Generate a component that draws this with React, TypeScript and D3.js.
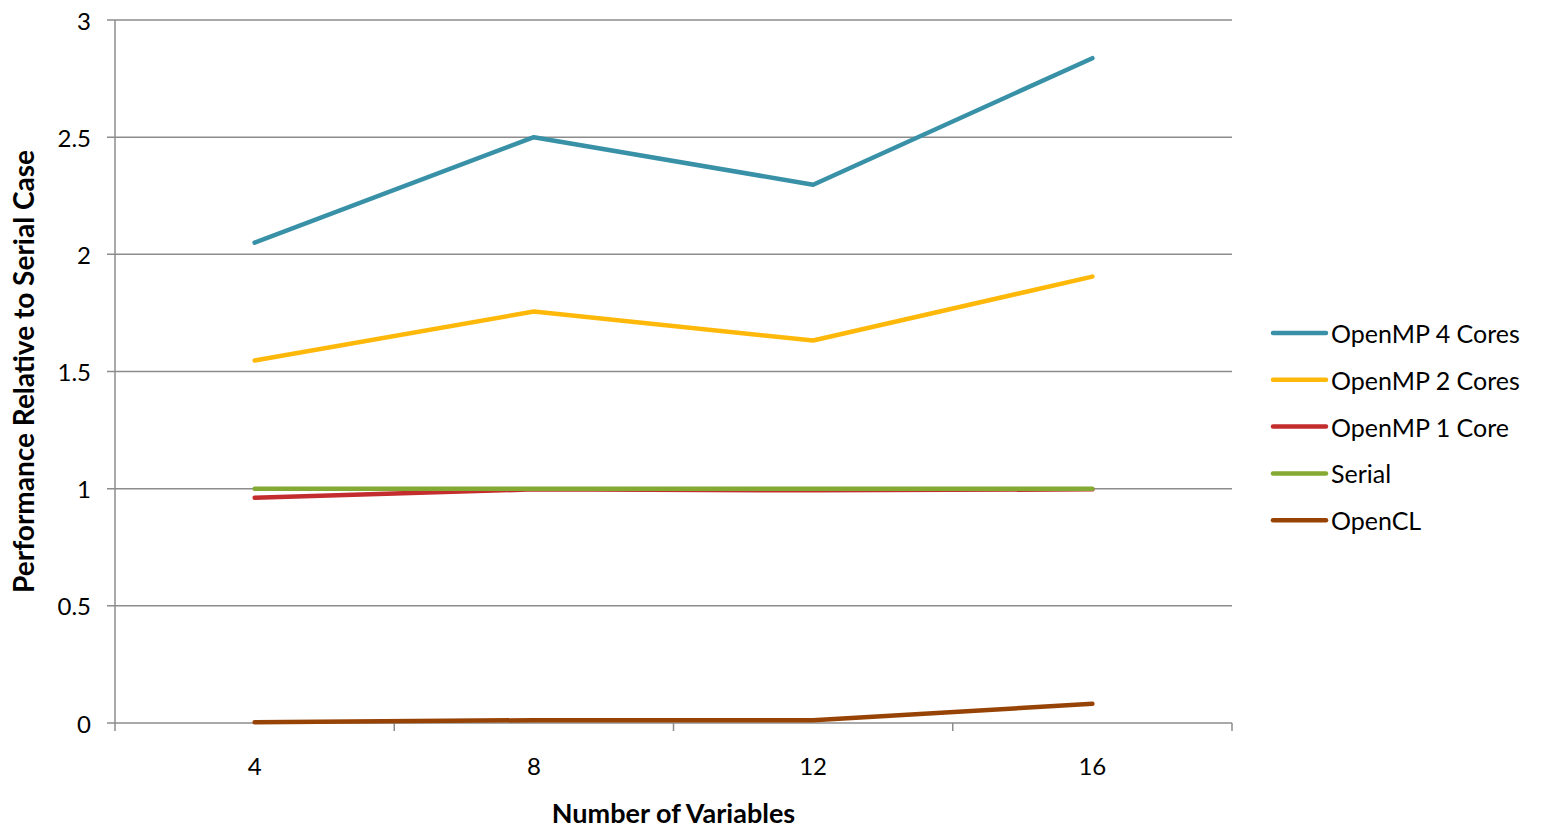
import React from "react";
import * as d3 from "d3";

const categories = ["4", "8", "12", "16"];
const seriesNames = ["OpenMP 4 Cores", "OpenMP 2 Cores", "OpenMP 1 Core", "Serial", "OpenCL"];
const openmp4 = [2.05, 2.5, 2.297, 2.837];
const openmp2 = [1.547, 1.756, 1.632, 1.905];
const openmp1 = [0.961, 0.997, 0.993, 0.997];
const serial = [1, 1, 1, 1];
const opencl = [0.003, 0.012, 0.012, 0.082];
const yTicks = [0, 0.5, 1, 1.5, 2, 2.5, 3];
const yTickLabels = ["0", "0.5", "1", "1.5", "2", "2.5", "3"];
const colors = ["#3891A7", "#FEB80A", "#C32D2E", "#84AA33", "#964305"];

const W = 1541;
const H = 828;
const left = 115;
const right = 1232;
const top = 20;
const bottom = 723;
const FONT = "Lato, 'Open Sans', sans-serif";

export default function App() {
  const allSeries = [openmp4, openmp2, openmp1, serial, opencl];
  const x = d3.scaleBand<string>().domain(categories).range([left, right]);
  const y = d3.scaleLinear().domain([0, 3]).range([bottom, top]);
  const line = d3
    .line<number>()
    .x((_, i) => (x(categories[i]) as number) + x.bandwidth() / 2)
    .y((d) => y(d));

  const boundaries = [...categories.map((c) => x(c) as number), right];
  // draw order: lower series first so the top legend entry sits on top
  const drawOrder = [4, 2, 3, 1, 0];

  return (
    <svg width={W} height={H} style={{ position: "absolute", left: 0, top: 0, background: "#fff" }}>
      {/* horizontal gridlines and y ticks */}
      {yTicks.map((t, i) => (
        <g key={t}>
          <line x1={left - 8} x2={right} y1={y(t)} y2={y(t)} stroke="#8c8c8c" strokeWidth={1.5} />
          <text
            x={91}
            y={y(t)}
            textAnchor="end"
            dominantBaseline="central"
            fontFamily={FONT}
            fontSize={24}
            fill="#000"
          >
            {yTickLabels[i]}
          </text>
        </g>
      ))}
      {/* y axis line */}
      <line x1={left} x2={left} y1={top} y2={bottom} stroke="#8c8c8c" strokeWidth={1.5} />
      {/* x tick marks at category boundaries */}
      {boundaries.map((b, i) => (
        <line key={i} x1={b} x2={b} y1={bottom} y2={bottom + 8} stroke="#8c8c8c" strokeWidth={1.5} />
      ))}
      {/* x tick labels */}
      {categories.map((c) => (
        <text
          key={c}
          x={(x(c) as number) + x.bandwidth() / 2}
          y={765}
          textAnchor="middle"
          dominantBaseline="central"
          fontFamily={FONT}
          fontSize={24}
          fill="#000"
        >
          {c}
        </text>
      ))}
      {/* series lines */}
      {drawOrder.map((si) => (
        <path
          key={si}
          d={line(allSeries[si]) as string}
          fill="none"
          stroke={colors[si]}
          strokeWidth={4.5}
          strokeLinecap="round"
          strokeLinejoin="round"
        />
      ))}
      {/* axis titles */}
      <text
        x={(left + right) / 2}
        y={823}
        textAnchor="middle"
        fontFamily={FONT}
        fontWeight="bold"
        fontSize={27}
        fill="#000"
      >
        Number of Variables
      </text>
      <text
        transform={`translate(23, ${(top + bottom) / 2}) rotate(-90)`}
        textAnchor="middle"
        dominantBaseline="central"
        fontFamily={FONT}
        fontWeight="bold"
        fontSize={28}
        fill="#000"
      >
        Performance Relative to Serial Case
      </text>
      {/* legend */}
      {seriesNames.map((name, i) => {
        const ly = 333 + i * 46.8;
        return (
          <g key={name}>
            <line x1={1273} x2={1326} y1={ly} y2={ly} stroke={colors[i]} strokeWidth={4.5} strokeLinecap="round" />
            <text
              x={1331}
              y={ly}
              dominantBaseline="central"
              fontFamily={FONT}
              fontSize={25}
              fill="#000"
            >
              {name}
            </text>
          </g>
        );
      })}
    </svg>
  );
}
